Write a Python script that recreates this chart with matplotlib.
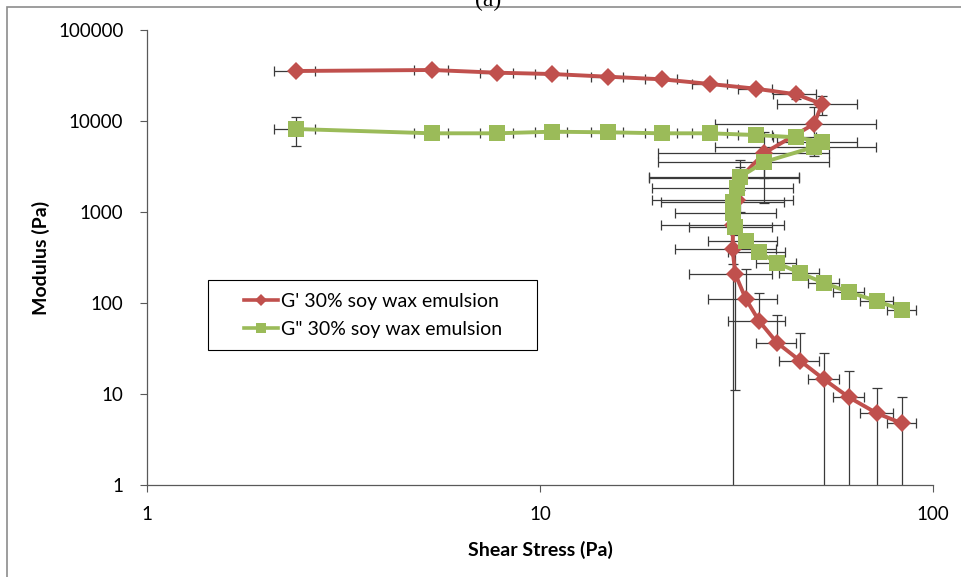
import numpy as np
import matplotlib.pyplot as plt
from matplotlib.patches import Rectangle
from matplotlib.lines import Line2D

# Shear stress sweep (Pa) with its standard deviation
stress = [2.39, 5.31, 7.77, 10.7, 14.9, 20.4, 27.1, 35.4, 44.8, 52.2, 49.8, 37.2,
          32.3, 31.7, 31.0, 30.9, 31.4, 33.4, 36.1, 40.1, 45.9, 52.8, 61.1, 72.0, 83.4]
stress_err = [0.28, 0.54, 0.75, 1.0, 1.4, 1.9, 2.8, 3.5, 5.6, 12.0, 22.0, 17.2,
              13.4, 12.4, 10.7, 8.9, 7.5, 6.6, 6.0, 4.7, 5.3, 4.7, 5.5, 6.9, 7.2]

# Storage modulus G' (Pa)
g_storage = [35440, 36350, 33950, 32850, 30670, 28730, 25500, 22640, 19660, 15380, 9270, 4450,
             2364, 1355, 720, 392, 208, 110.7, 63.4, 36.6, 23.2, 14.5, 9.2, 6.14, 4.76]
g_storage_err = [1500, 1500, 1500, 1500, 1500, 1500, 1500, 1800, 2000, 3600, 5100, 3200,
                 1360, 700, 450, 391.5, 197, 124, 66, 37.2, 23.6, 13.7, 8.7, 5.5, 4.5]

# Loss modulus G" (Pa)
g_loss = [8170, 7325, 7325, 7627, 7513, 7325, 7325, 7019, 6620, 5877, 5178, 3544,
          2424, 1835, 1288, 975, 684, 484, 363, 275, 214, 166, 132, 105, 84]
g_loss_err = [2800, 300, 300, 300, 300, 300, 300, 300, 400, 700, 800, 1200,
              700, 400, 250, 180, 120, 60, 40, 30, 20, 15, 12, 10, 8]

RED = '#C0504D'
GREEN = '#9BBB59'
plt.rcParams['font.family'] = ['Lato', 'DejaVu Sans']

W, H = 961, 577
AX_L, AX_R, AX_T, AX_B = 147, 933, 30, 485


def lower_err(vals, errs):
    # on a log axis a bar reaching below zero is left out, as the spreadsheet does
    vals = np.asarray(vals, dtype=float)
    errs = np.asarray(errs, dtype=float)
    return np.where(vals - errs > 0, errs, 0.0)


def ax_frac(px, py):
    return (px - AX_L) / (AX_R - AX_L), (AX_B - py) / (AX_B - AX_T)


fig = plt.figure(figsize=(W / 100, H / 100), dpi=100)
fig.patches.append(Rectangle((7 / W, -0.05), 1.0, 1.05 - 7 / H, transform=fig.transFigure,
                             fill=False, edgecolor='#8c8c8c', linewidth=1.2))
ax = fig.add_axes([AX_L / W, 1 - AX_B / H, (AX_R - AX_L) / W, (AX_B - AX_T) / H])

series = [
    (g_storage, g_storage_err, RED, 'D', 9.5, 'G\' 30% soy wax emulsion'),
    (g_loss, g_loss_err, GREEN, 's', 11.5, 'G" 30% soy wax emulsion'),
]
handles = []
for vals, errs, color, marker, msize, label in series:
    ax.errorbar(stress, vals, xerr=stress_err,
                yerr=[lower_err(vals, errs), errs], fmt='none',
                ecolor='#3a3a3a', elinewidth=0.9, capsize=3.5, capthick=0.9, zorder=2)
    ax.plot(stress, vals, '-', color=color, linewidth=2.8, marker=marker,
            markersize=msize, markeredgewidth=0, zorder=3)
    handles.append(Line2D([], [], color=color, linewidth=2.6, marker=marker,
                          markersize=msize * 0.6, markeredgewidth=0, label=label))

ax.set_xscale('log')
ax.set_yscale('log')
ax.set_xlim(1, 100)
ax.set_ylim(1, 100000)
ax.set_xticks([1, 10, 100])
ax.set_xticklabels(['1', '10', '100'])
ax.set_yticks([1, 10, 100, 1000, 10000, 100000])
ax.set_yticklabels(['1', '10', '100', '1000', '10000', '100000'])
ax.minorticks_off()
ax.tick_params(axis='both', direction='out', length=5, width=0.8, color='#595959',
               labelsize=13.5, labelcolor='black')
ax.tick_params(axis='x', pad=10)
ax.tick_params(axis='y', pad=12)
for side in ['top', 'right']:
    ax.spines[side].set_visible(False)
for side in ['left', 'bottom']:
    ax.spines[side].set_color('#595959')
    ax.spines[side].set_linewidth(0.9)

ax.set_xlabel('Shear Stress (Pa)', fontsize=14, fontweight='bold', labelpad=13)
ax.set_ylabel('Modulus (Pa)', fontsize=14, fontweight='bold', labelpad=6)

# legend box with the wide spreadsheet padding
bx0, by0 = ax_frac(208, 350)
bx1, by1 = ax_frac(537, 280)
ax.add_patch(Rectangle((bx0, by0), bx1 - bx0, by1 - by0, transform=ax.transAxes,
                       facecolor='white', edgecolor='black', linewidth=0.8, zorder=5))
lx, ly = ax_frac(244, 315.5)
leg = ax.legend(handles=handles, loc='center left', bbox_to_anchor=(lx, ly),
                borderaxespad=0, borderpad=0, fontsize=14, frameon=False,
                handlelength=1.75, handletextpad=0.15, labelspacing=0.55)
leg.set_zorder(6)

fig.text(488 / W, 1 - 6 / H, '(a)', ha='center', va='baseline', fontsize=17,
         family=['Liberation Serif', 'DejaVu Serif'])

fig.savefig('out.png', dpi=100)
